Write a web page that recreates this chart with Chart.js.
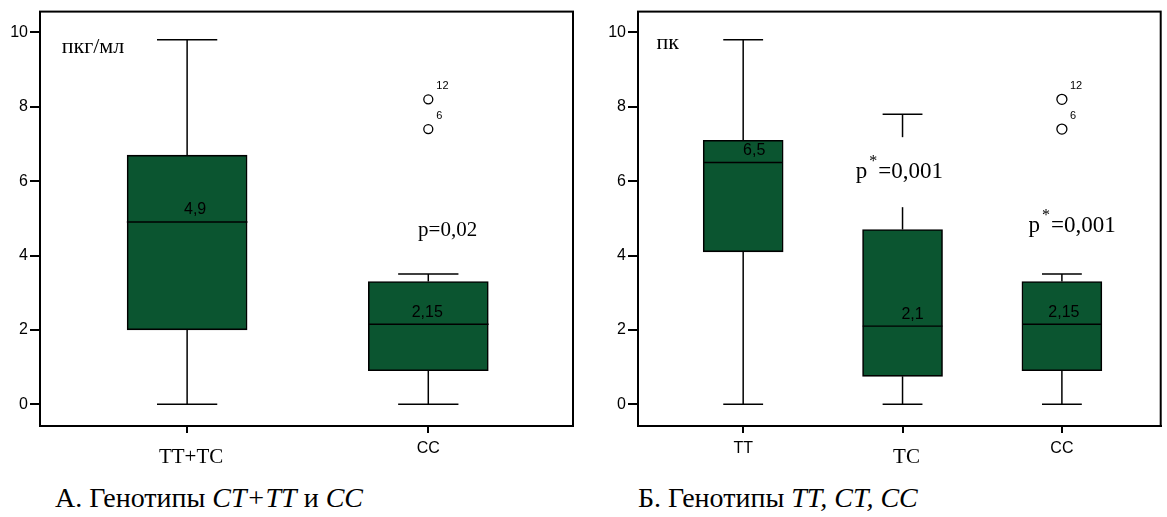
<!DOCTYPE html>
<html>
<head>
<meta charset="utf-8">
<script src="https://cdn.jsdelivr.net/npm/chart.js@4/dist/chart.umd.min.js"></script>
<style>
  body { margin: 0; background: #fff; width: 1167px; height: 517px; position: relative; overflow: hidden; }
  canvas { position: absolute; top: 0; }
  #cA { left: 0; }
  #cB { left: 590px; }
  .cap { position: absolute; top: 482px; font-family: "Liberation Serif", "Times New Roman", serif; font-size: 28px; line-height: 32px; color: #000; white-space: nowrap; }
  .cap i { font-style: italic; }
</style>
</head>
<body>
<canvas id="cA" width="583" height="475"></canvas>
<canvas id="cB" width="577" height="475"></canvas>
<div class="cap" style="left:55px">А. Генотипы <i>CT+TT</i> и <i>CC</i></div>
<div class="cap" style="left:638px">Б. Генотипы <i>TT, CT, CC</i></div>
<script>
const yTicks = [0, 2, 4, 6, 8, 10];

// panel A
const catsA = ['TT+TC', 'CC'];
const minA = [0, 0];
const q1A = [2.0, 0.9];
const medA = [4.9, 2.15];
const q3A = [6.7, 3.3];
const maxA = [9.8, 3.5];
const medTextA = ['4,9', '2,15'];
const outCatA = [1, 1];
const outValA = [7.4, 8.2];
const outIdA = ['6', '12'];

// panel B
const catsB = ['TT', 'TC', 'CC'];
const minB = [0, 0, 0];
const q1B = [4.1, 0.75, 0.9];
const medB = [6.5, 2.1, 2.15];
const q3B = [7.1, 4.7, 3.3];
const maxB = [9.8, 7.8, 3.5];
const medTextB = ['6,5', '2,1', '2,15'];
const outCatB = [2, 2];
const outValB = [7.4, 8.2];
const outIdB = ['6', '12'];

const GREEN = '#0b5530';
const SERIF = '"Liberation Serif", "Times New Roman", serif';
const SANS = '"Liberation Sans", Arial, sans-serif';

function boxDatasets(mins, q1, med, q3, max, outCat, outVal, thick) {
  const whisk = [], caps = [], meds = [];
  q1.forEach((v, i) => {
    whisk.push({x: i, y: q3[i]}, {x: i, y: max[i]}, {x: i, y: null});
    whisk.push({x: i, y: mins[i]}, {x: i, y: q1[i]}, {x: i, y: null});
    caps.push({x: i - 0.125, y: max[i]}, {x: i + 0.125, y: max[i]}, {x: i, y: null});
    caps.push({x: i - 0.125, y: mins[i]}, {x: i + 0.125, y: mins[i]}, {x: i, y: null});
    meds.push({x: i - 0.25, y: med[i]}, {x: i + 0.25, y: med[i]}, {x: i, y: null});
  });
  const line = (data, w) => ({
    type: 'line', data, borderColor: '#000', borderWidth: w, pointRadius: 0,
    spanGaps: false, fill: false, order: 2
  });
  return [
    {
      type: 'bar',
      data: q1.map((v, i) => ({x: i, y: [v, q3[i]]})),
      backgroundColor: GREEN, borderColor: '#000', borderWidth: 1.6,
      borderSkipped: false, barThickness: thick, order: 3
    },
    line(whisk, 1.5),
    line(caps, 1.5),
    line(meds, 1.4),
    {
      type: 'scatter',
      data: outCat.map((c, i) => ({x: c, y: outVal[i]})),
      pointRadius: thick > 100 ? 4.5 : 5, pointBackgroundColor: '#fff',
      pointBorderColor: '#000', pointBorderWidth: 1.3, order: 1
    }
  ];
}

function drawPStar(ctx, px, py, rest, cover) {
  if (cover) {
    ctx.fillStyle = '#fff';
    ctx.fillRect(px - 6, py - 41, 102, 70);
  }
  ctx.fillStyle = '#000';
  ctx.textAlign = 'left';
  ctx.textBaseline = 'alphabetic';
  ctx.font = '23px ' + SERIF;
  ctx.fillText('p', px, py);
  const pw = ctx.measureText('p').width;
  ctx.font = '16px ' + SERIF;
  ctx.fillText('*', px + pw + 2, py - 12);
  ctx.font = '23px ' + SERIF;
  ctx.fillText(rest, px + pw + 11, py);
}

const boxText = {
  id: 'boxText',
  afterDatasetsDraw(chart, args, o) {
    const {ctx, chartArea: a, scales: {x, y}} = chart;
    ctx.save();
    // p labels (white cover behind the first one on panel B)
    o.pLabels.forEach(p => {
      const px = x.getPixelForValue(p.x), py = y.getPixelForValue(p.y);
      if (p.star) {
        drawPStar(ctx, px, py, p.text, p.cover);
      } else {
        ctx.fillStyle = '#000';
        ctx.font = '21px ' + SERIF;
        ctx.textAlign = 'center';
        ctx.textBaseline = 'alphabetic';
        ctx.fillText(p.text, px, py);
      }
    });
    // frame
    ctx.strokeStyle = '#000';
    ctx.lineWidth = 2;
    ctx.strokeRect(a.left, a.top, a.right - a.left, a.bottom - a.top);
    ctx.fillStyle = '#000';
    // medians
    ctx.font = '16px ' + SANS;
    ctx.textAlign = 'center';
    ctx.textBaseline = 'middle';
    o.med.forEach((m, i) => {
      ctx.fillText(o.medText[i], x.getPixelForValue(i) + o.medDx[i], y.getPixelForValue(m) - 12);
    });
    // outlier ids
    ctx.font = '11px ' + SANS;
    ctx.textAlign = 'left';
    o.outCat.forEach((c, i) => {
      ctx.fillText(o.outId[i], x.getPixelForValue(c) + 8, y.getPixelForValue(o.outVal[i]) - 13);
    });
    // unit label
    ctx.font = '22px ' + SERIF;
    ctx.textBaseline = 'alphabetic';
    ctx.fillText(o.unit, x.getPixelForValue(o.unitX), y.getPixelForValue(o.unitY));
    // category labels
    ctx.textAlign = 'center';
    ctx.textBaseline = 'middle';
    o.cats.forEach((c, i) => {
      const serif = o.catSerif[i];
      ctx.font = serif ? '21px ' + SERIF : '16px ' + SANS;
      ctx.fillText(c, x.getPixelForValue(i) + (serif ? 4 : 0), a.bottom + (serif ? 31 : 23));
    });
    ctx.restore();
  }
};

function makeChart(id, cats, mins, q1, med, q3, max, outCat, outVal, cfg) {
  return new Chart(document.getElementById(id), {
    data: { datasets: boxDatasets(mins, q1, med, q3, max, outCat, outVal, cfg.thick) },
    options: {
      responsive: false,
      animation: false,
      layout: { padding: { top: 7, right: cfg.padRight, left: 0, bottom: 0 } },
      plugins: {
        legend: { display: false },
        tooltip: { enabled: false },
        boxText: Object.assign({ cats, med }, cfg.text)
      },
      scales: {
        x: {
          type: 'linear', min: cfg.xMin, max: cfg.xMax, offset: false,
          afterBuildTicks: s => { s.ticks = cats.map((c, i) => ({ value: i })); },
          afterFit: s => { s.height = 49; },
          ticks: { display: false },
          grid: { display: true, offset: false, drawOnChartArea: false, drawTicks: true, tickLength: 7, color: '#000', lineWidth: 2 },
          border: { display: true, color: '#000', width: 2 }
        },
        y: {
          min: -0.585, max: 10.56,
          afterBuildTicks: s => { s.ticks = yTicks.map(v => ({ value: v })); },
          afterFit: s => { s.width = cfg.yWidth; },
          ticks: { color: '#000', font: { family: SANS, size: 16 }, padding: 2 },
          grid: { display: true, drawOnChartArea: false, drawTicks: true, tickLength: 10, color: '#000', lineWidth: 2 },
          border: { display: true, color: '#000', width: 2 }
        }
      }
    },
    plugins: [boxText]
  });
}

makeChart('cA', catsA, minA, q1A, medA, q3A, maxA, outCatA, outValA, {
  thick: 120, xMin: -0.61, xMax: 1.60, yWidth: 40, padRight: 10,
  text: {
    medText: medTextA, medDx: [8, -1, 0],
    outCat: outCatA, outVal: outValA, outId: outIdA,
    unit: 'пкг/мл', unitX: -0.52, unitY: 9.44,
    catSerif: [true, false],
    pLabels: [{ text: 'p=0,02', x: 1.08, y: 4.53 }]
  }
});

makeChart('cB', catsB, minB, q1B, medB, q3B, maxB, outCatB, outValB, {
  thick: 80, xMin: -0.66, xMax: 2.62, yWidth: 48, padRight: 4,
  text: {
    medText: medTextB, medDx: [11, 10, 2],
    outCat: outCatB, outVal: outValB, outId: outIdB,
    unit: 'пк', unitX: -0.544, unitY: 9.55,
    catSerif: [false, true, false],
    pLabels: [
      { text: '=0,001', x: 0.706, y: 6.08, star: true, cover: true },
      { text: '=0,001', x: 1.79, y: 4.64, star: true, cover: false }
    ]
  }
});
</script>
</body>
</html>
